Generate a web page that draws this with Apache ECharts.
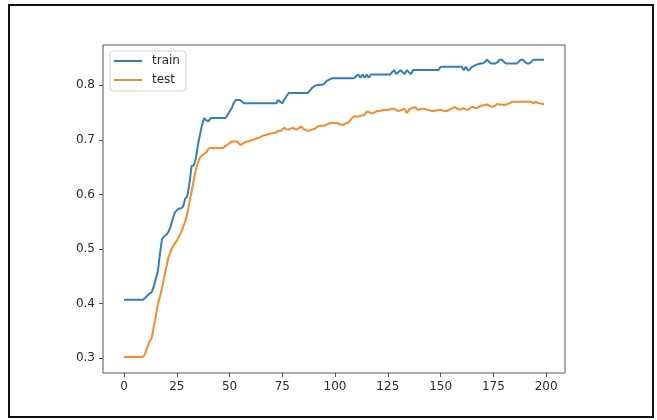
<!DOCTYPE html>
<html>
<head>
<meta charset="utf-8">
<script src="https://cdn.jsdelivr.net/npm/echarts@6/dist/echarts.min.js"></script>
<style>
html,body{margin:0;padding:0;background:#fff;}
#chart{width:657px;height:420px;}
</style>
</head>
<body>
<div id="chart"></div>
<script>
const seriesNames = ["train", "test"];
const xTicks = [0, 25, 50, 75, 100, 125, 150, 175, 200];
const yTicks = [0.3, 0.4, 0.5, 0.6, 0.7, 0.8];
const train = [
0.407,0.407,0.407,0.407,0.407,0.407,0.407,0.407,0.407,0.407,
0.410,0.414,0.418,0.420,0.430,0.444,0.458,0.490,0.518,0.523,
0.526,0.531,0.540,0.554,0.566,0.571,0.574,0.574,0.578,0.592,
0.597,0.620,0.652,0.653,0.665,0.690,0.710,0.728,0.740,0.736,
0.734,0.740,0.740,0.740,0.740,0.740,0.740,0.740,0.740,0.745,
0.752,0.758,0.768,0.773,0.773,0.773,0.770,0.767,0.767,0.767,
0.767,0.767,0.767,0.767,0.767,0.767,0.767,0.767,0.767,0.767,
0.767,0.767,0.767,0.773,0.770,0.767,0.774,0.780,0.786,0.786,
0.786,0.786,0.786,0.786,0.786,0.786,0.786,0.786,0.790,0.795,
0.798,0.800,0.801,0.801,0.801,0.803,0.808,0.810,0.812,0.813,
0.813,0.813,0.813,0.813,0.813,0.813,0.813,0.813,0.813,0.813,
0.817,0.820,0.814,0.820,0.814,0.820,0.814,0.820,0.820,0.820,
0.820,0.820,0.820,0.820,0.820,0.820,0.820,0.824,0.828,0.821,
0.824,0.828,0.824,0.821,0.828,0.824,0.821,0.828,0.828,0.828,
0.828,0.828,0.828,0.828,0.828,0.828,0.828,0.828,0.828,0.828,
0.834,0.834,0.834,0.834,0.834,0.834,0.834,0.834,0.834,0.834,
0.834,0.828,0.834,0.827,0.830,0.834,0.836,0.838,0.839,0.840,
0.840,0.843,0.847,0.843,0.840,0.840,0.840,0.843,0.847,0.847,
0.843,0.840,0.840,0.840,0.840,0.840,0.840,0.843,0.847,0.847,
0.843,0.840,0.840,0.843,0.847,0.847,0.847,0.847,0.847,0.847
];
const test = [
0.302,0.302,0.302,0.302,0.302,0.302,0.302,0.302,0.302,0.302,
0.308,0.319,0.330,0.335,0.355,0.375,0.398,0.412,0.428,0.448,
0.465,0.484,0.494,0.503,0.510,0.515,0.523,0.530,0.540,0.550,
0.565,0.585,0.605,0.625,0.645,0.658,0.668,0.672,0.674,0.677,
0.684,0.685,0.685,0.685,0.685,0.685,0.685,0.685,0.689,0.691,
0.694,0.697,0.697,0.697,0.696,0.691,0.692,0.695,0.697,0.697,
0.699,0.700,0.701,0.703,0.704,0.706,0.708,0.709,0.710,0.711,
0.712,0.713,0.713,0.717,0.716,0.719,0.722,0.719,0.719,0.721,
0.722,0.720,0.719,0.722,0.725,0.720,0.718,0.717,0.717,0.719,
0.720,0.722,0.725,0.726,0.726,0.726,0.728,0.730,0.731,0.731,
0.731,0.731,0.729,0.728,0.728,0.730,0.731,0.735,0.740,0.743,
0.743,0.743,0.744,0.745,0.746,0.752,0.751,0.749,0.749,0.751,
0.753,0.753,0.754,0.755,0.755,0.755,0.756,0.757,0.757,0.755,
0.753,0.754,0.756,0.757,0.749,0.755,0.758,0.759,0.760,0.755,
0.756,0.757,0.757,0.756,0.755,0.754,0.753,0.753,0.754,0.755,
0.755,0.754,0.753,0.753,0.755,0.757,0.759,0.760,0.757,0.755,
0.757,0.758,0.756,0.755,0.758,0.761,0.759,0.758,0.760,0.763,
0.763,0.764,0.765,0.763,0.761,0.761,0.763,0.766,0.765,0.765,
0.764,0.765,0.766,0.768,0.770,0.770,0.770,0.770,0.770,0.770,
0.770,0.770,0.770,0.770,0.767,0.770,0.768,0.767,0.766,0.766
];

const chart = echarts.init(document.getElementById('chart'), null, {renderer: 'canvas'});
const txt = {fontFamily: 'DejaVu Sans', fontSize: 12, color: '#2b2b2b'};
const toPairs = arr => arr.map((v, i) => [i, v]);

chart.setOption({
  animation: false,
  backgroundColor: '#fff',
  graphic: [{
    type: 'rect', silent: true, z: 100,
    shape: {x: 9, y: 5, width: 644, height: 412},
    style: {fill: 'none', stroke: '#111', lineWidth: 2}
  }],
  grid: {left: 103, top: 45, width: 462, height: 328, show: true, borderColor: '#555', borderWidth: 1, backgroundColor: 'transparent'},
  legend: {
    orient: 'vertical', left: 110, top: 51,
    data: seriesNames,
    icon: 'rect', itemWidth: 28, itemHeight: 2, itemGap: 5,
    padding: [3, 6, 4, 4],
    borderColor: '#cfcfcf', borderWidth: 1, borderRadius: 3,
    backgroundColor: 'rgba(255,255,255,0.8)',
    textStyle: {fontFamily: 'DejaVu Sans', fontSize: 12, lineHeight: 14, color: '#2b2b2b', padding: [0, 0, 0, 5]}
  },
  xAxis: {
    type: 'value', min: -9.95, max: 208.95, position: 'bottom',
    splitLine: {show: false},
    axisLine: {show: false, onZero: false},
    axisTick: {show: true, inside: false, length: 4, lineStyle: {color: '#555'}, customValues: xTicks},
    axisLabel: Object.assign({margin: 8, customValues: xTicks, formatter: v => String(Math.round(v))}, txt)
  },
  yAxis: {
    type: 'value', min: 0.2726, max: 0.874, position: 'left',
    splitLine: {show: false},
    axisLine: {show: false, onZero: false},
    axisTick: {show: true, inside: false, length: 4, lineStyle: {color: '#555'}, customValues: yTicks},
    axisLabel: Object.assign({margin: 8, customValues: yTicks, formatter: v => v.toFixed(1)}, txt)
  },
  series: [
    {name: seriesNames[0], type: 'line', data: toPairs(train), symbol: 'none', color: '#2f80bd', lineStyle: {width: 2, color: '#2f80bd'}},
    {name: seriesNames[1], type: 'line', data: toPairs(test), symbol: 'none', color: '#fa8a25', lineStyle: {width: 2, color: '#fa8a25'}}
  ]
});
</script>
</body>
</html>
